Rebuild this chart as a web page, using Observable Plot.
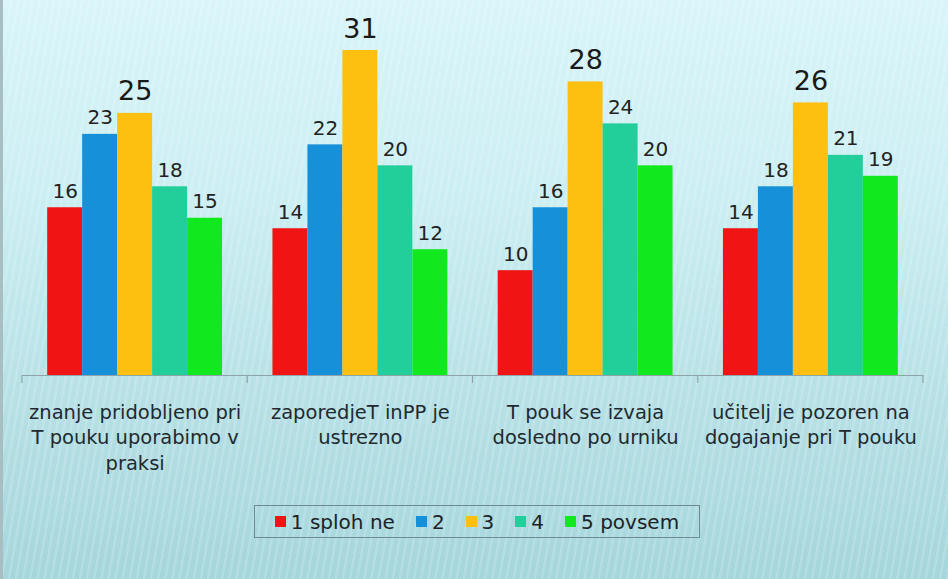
<!DOCTYPE html>
<html>
<head>
<meta charset="utf-8">
<script src="https://cdn.jsdelivr.net/npm/d3@7"></script>
<script src="https://cdn.jsdelivr.net/npm/@observablehq/plot@0.6"></script>
<style>
  html, body { margin: 0; padding: 0; }
  body { width: 948px; height: 579px; overflow: hidden; font-family: "DejaVu Sans", sans-serif; }
  #wrap {
    position: relative; width: 948px; height: 579px;
    background:
      repeating-linear-gradient(100deg, rgba(255,255,255,0.16) 0px, rgba(255,255,255,0.16) 2px, rgba(255,255,255,0) 3px, rgba(255,255,255,0) 7px),
      linear-gradient(to bottom, #d9f5f9 0%, #cbeef2 35%, #b6e0e5 70%, #a5d6dc 100%);
    box-sizing: border-box;
    border-left: 3px solid #a7bfc2;
  }
  #chart { position: absolute; left: -3px; top: 0; }
  #legend {
    position: absolute; left: 251px; top: 505px; width: 446px; height: 33px;
    border: 1px solid #6f8a90; box-sizing: border-box;
    display: flex; align-items: center; justify-content: center; gap: 21px;
    font-size: 20px; color: #1c2328;
  }
  #legend .item { display: flex; align-items: center; gap: 5px; }
  #legend .sw { width: 11px; height: 11px; display: inline-block; }
</style>
</head>
<body>
<div id="wrap">
  <div id="chart"></div>
  <div id="legend"></div>
</div>
<script>
const categories = [
  "znanje pridobljeno pri\nT pouku uporabimo v\npraksi",
  "zaporedjeT inPP je\nustrezno",
  "T pouk se izvaja\ndosledno po urniku",
  "učitelj je pozoren na\ndogajanje pri T pouku"
];
const series = ["1 sploh ne", "2", "3", "4", "5 povsem"];
const colors = ["#f01414", "#1690d8", "#fdbf10", "#22cf9b", "#12e81e"];
const s1 = [16, 14, 10, 14];
const s2 = [23, 22, 16, 18];
const s3 = [25, 31, 28, 26];
const s4 = [18, 20, 24, 21];
const s5 = [15, 12, 20, 19];

const seriesValues = [s1, s2, s3, s4, s5];
const data = [];
categories.forEach((c, i) => {
  const vals = seriesValues.map(s => s[i]);
  const mx = Math.max(...vals);
  series.forEach((s, j) => data.push({cat: c, s, v: vals[j], isMax: vals[j] === mx}));
});

const chart = Plot.plot({
  width: 948,
  height: 495,
  marginLeft: 22,
  marginRight: 25,
  marginTop: 50,
  marginBottom: 120,
  style: {background: "transparent", overflow: "visible", fontFamily: "DejaVu Sans, sans-serif"},
  fx: {domain: categories, padding: 0, round: false, axis: null},
  x: {domain: series, paddingInner: 0, paddingOuter: 0.72, round: false, axis: null},
  y: {domain: [0, 31], axis: null},
  color: {domain: series, range: colors},
  marks: [
    Plot.barY(data, {fx: "cat", x: "s", y: "v", fill: "s"}),
    Plot.text(data.filter(d => !d.isMax), {fx: "cat", x: "s", y: "v", text: d => String(d.v), dy: -10, lineAnchor: "bottom", fontSize: 20, fill: "#222"}),
    Plot.text(data.filter(d => d.isMax), {fx: "cat", x: "s", y: "v", text: d => String(d.v), dy: -13, lineAnchor: "bottom", fontSize: 27, fill: "#1a1a1a"}),
    Plot.ruleY([0], {stroke: "#8fa3a8", strokeWidth: 1.2}),
    Plot.text(categories, {fx: d => d, text: d => d, frameAnchor: "bottom", lineAnchor: "top", dy: 25, fontSize: 19.5, lineHeight: 1.31, fill: "#1f2a30"})
  ]
});
document.getElementById("chart").appendChild(chart);

// group separator ticks, placed with Plot's fx scale
const fx = chart.scale("fx");
const yS = chart.scale("y");
const y0 = yS.apply(0);
const bounds = categories.map(c => fx.apply(c));
bounds.push(fx.apply(categories[categories.length - 1]) + fx.bandwidth);
d3.select(chart).append("g")
  .selectAll("line").data(bounds).join("line")
  .attr("x1", d => d).attr("x2", d => d)
  .attr("y1", y0).attr("y2", y0 + 8)
  .attr("stroke", "#8fa3a8").attr("stroke-width", 1.2);

// legend
const lg = d3.select("#legend");
series.forEach((s, i) => {
  const it = lg.append("div").attr("class", "item");
  it.append("span").attr("class", "sw").style("background", colors[i]);
  it.append("span").text(s);
});
</script>
</body>
</html>
